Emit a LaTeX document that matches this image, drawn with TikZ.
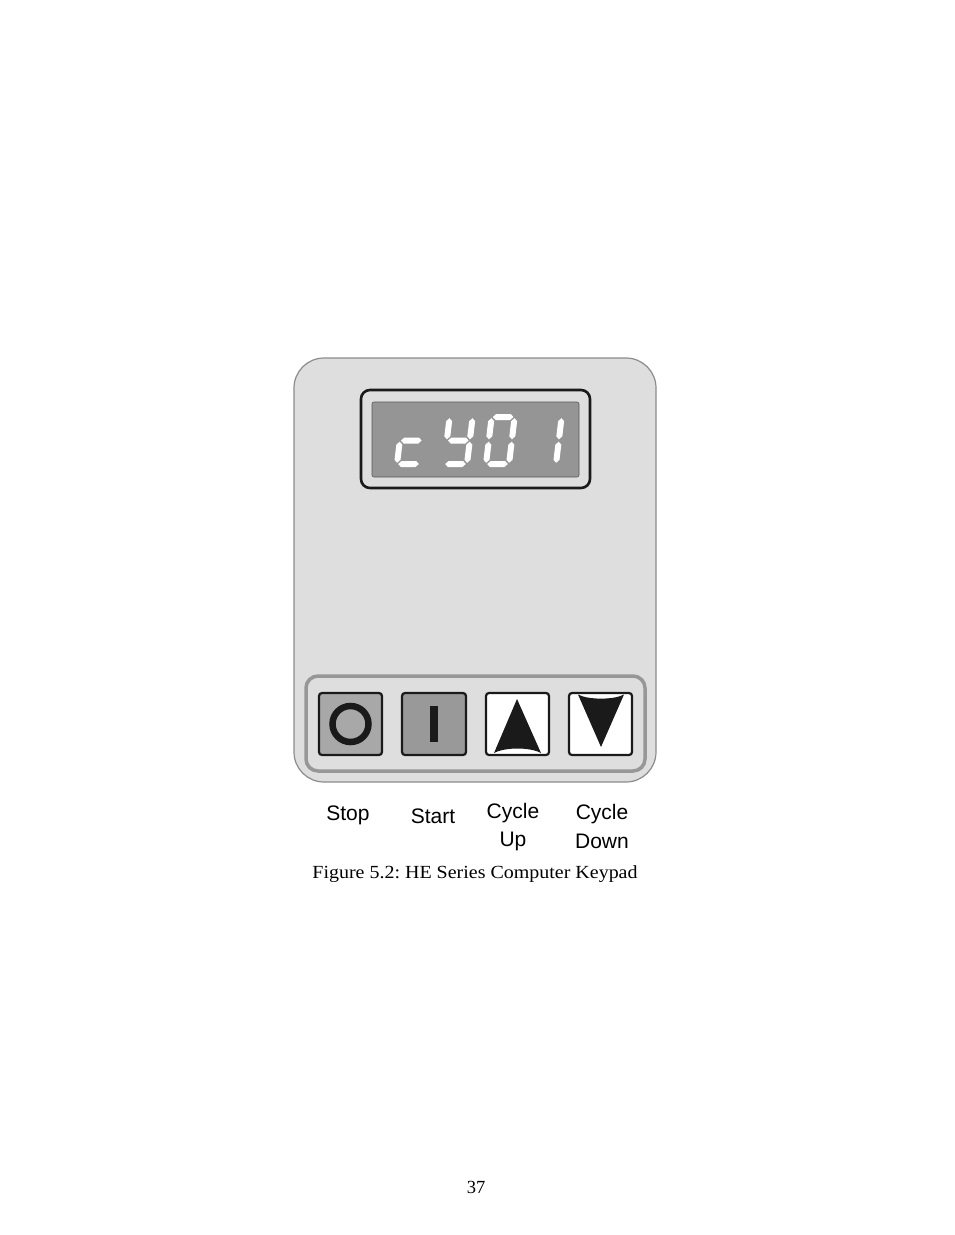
\documentclass[tikz,border=0pt]{standalone}
\usepackage{fontspec}
\setmainfont{Liberation Serif}
\newfontfamily\labfont{Liberation Sans}
\frenchspacing
\definecolor{panelc}{HTML}{DEDEDE}
\definecolor{edgec}{HTML}{8C8C8C}
\definecolor{lcdc}{HTML}{959595}
\definecolor{stopc}{HTML}{A8A8A8}
\definecolor{startc}{HTML}{999999}
\definecolor{inkc}{HTML}{1A1A1A}
\tikzset{
  segc/.style={fill=white},
  keybox/.style={draw=inkc, line width=2.2pt, rounded corners=3pt},
  lab/.style={font=\labfont\fontsize{21}{25}\selectfont, anchor=base, inner sep=0pt},
}
\newcommand\hsg[3]{\fill[segc] (#1,#3) -- ({#1+3},{#3+3}) -- ({#2-3},{#3+3}) -- (#2,#3) -- ({#2-3},{#3-3}) -- ({#1+3},{#3-3}) -- cycle;}
\newcommand\vsg[3]{\fill[segc] (#1,#2) -- ({#1+3},{#2+3}) -- ({#1+3},{#3-3}) -- (#1,#3) -- ({#1-3},{#3-3}) -- ({#1-3},{#2+3}) -- cycle;}
\newcommand\sga{\hsg{1.2}{21.8}{47}}
\newcommand\sgb{\vsg{23}{24.7}{45.8}}
\newcommand\sgc{\vsg{23}{1.2}{22.3}}
\newcommand\sgd{\hsg{1.2}{21.8}{0}}
\newcommand\sge{\vsg{0}{1.2}{22.3}}
\newcommand\sgf{\vsg{0}{24.7}{45.8}}
\newcommand\sgg{\hsg{1.2}{21.8}{23.5}}
\begin{document}
\begin{tikzpicture}[x=1pt,y=-1pt]
\useasboundingbox[fill=white] (0,0) rectangle (954,1235);
% panel
\draw[fill=panelc, draw=edgec, line width=1.2pt, rounded corners=30pt] (294,358) rectangle (656,782);
% display
\draw[fill=panelc, draw=inkc, line width=2.6pt, rounded corners=9pt] (361,390) rectangle (590,488);
\draw[fill=lcdc, draw=gray!70!black, line width=0.6pt, rounded corners=2pt] (372,402) rectangle (579,477);
% digits
\begin{scope}[shift={(397,464)}, x=1pt, y=1pt, xslant=0.12]
  \sgd \sge \sgg
\end{scope}
\begin{scope}[shift={(444,464)}, x=1pt, y=1pt, xslant=0.12]
  \sgb \sgc \sgd \sgf \sgg
\end{scope}
\begin{scope}[shift={(486,464)}, x=1pt, y=1pt, xslant=0.12]
  \sga \sgb \sgc \sgd \sge \sgf
\end{scope}
\begin{scope}[shift={(533,464)}, x=1pt, y=1pt, xslant=0.12]
  \sgb \sgc
\end{scope}
% key tray
\draw[draw=edgec!90, line width=3.5pt, rounded corners=12pt] (306,676) rectangle (645,771);
% keys
\draw[keybox, fill=stopc] (319,693) rectangle (382,755);
\draw[inkc, line width=6.5pt] (350.5,724) circle[radius=18];
\draw[keybox, fill=startc] (402,693) rectangle (466,755);
\fill[inkc] (430,706) rectangle (438,742);
\draw[keybox, fill=white] (486,693) rectangle (549,755);
\fill[inkc] (517,699) -- (541,753) .. controls (530,747) and (505,747) .. (494,753) -- cycle;
\draw[keybox, fill=white] (569,693) rectangle (632,755);
\fill[inkc] (601,747) -- (578,694.5) .. controls (588,700) and (614,700) .. (624,694.5) -- cycle;
% labels
\node[lab] (stop) at (348,820) {Stop};
\node[lab] (start) at (433,823) {Start};
\node[lab] (cyc1) at (513,818) {Cycle};
\node[lab] (up) at (513,846) {Up};
\node[lab] (cyc2) at (602,819) {Cycle};
\node[lab] (down) at (602,848) {Down};
\node[anchor=base, inner sep=0pt, xscale=1.08, font=\fontsize{18.5}{22}\selectfont] (cap) at (475,878) {Figure 5.2: HE Series Computer Keypad};
\node[anchor=base, inner sep=0pt, font=\fontsize{18.5}{22}\selectfont] (pg) at (476,1193) {37};
\end{tikzpicture}
\end{document}
